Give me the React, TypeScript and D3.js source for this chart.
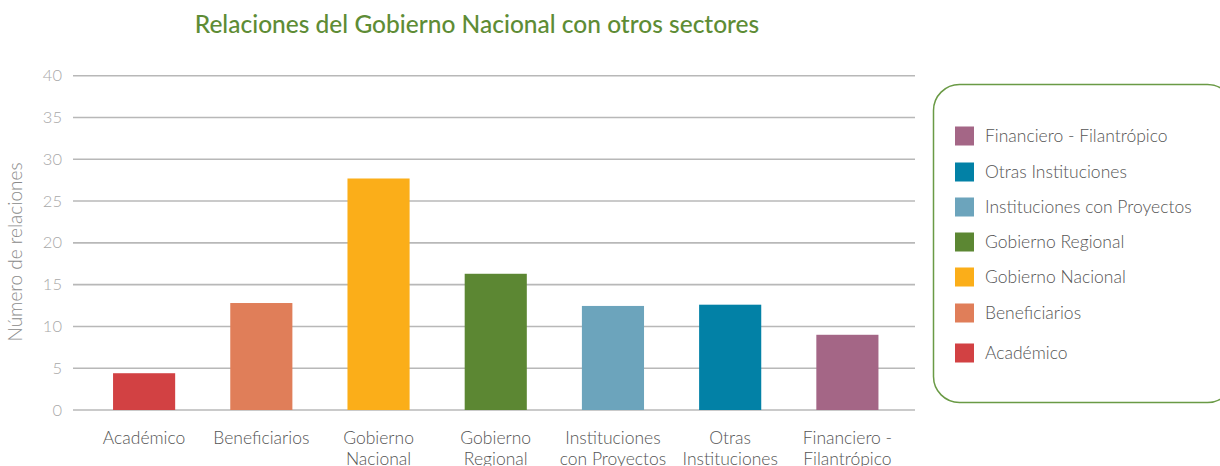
import React from "react";
import * as d3 from "d3";

const categories = ["Académico", "Beneficiarios", "Gobierno Nacional", "Gobierno Regional", "Instituciones con Proyectos", "Otras Instituciones", "Financiero - Filantrópico"];
const categoryLabelLines = [["Académico"], ["Beneficiarios"], ["Gobierno", "Nacional"], ["Gobierno", "Regional"], ["Instituciones", "con Proyectos"], ["Otras", "Instituciones"], ["Financiero -", "Filantrópico"]];
const values = [4.4, 12.8, 27.7, 16.3, 12.45, 12.6, 9.0];
const colors = ["#d24143", "#e07e59", "#fbae19", "#5c8733", "#6ca4bc", "#0281a6", "#a46686"];
const yTicks = [0, 5, 10, 15, 20, 25, 30, 35, 40];
const legendOrder = [6, 5, 4, 3, 2, 1, 0];
const legendRowY = [136, 172, 207, 242, 277, 313, 353];

const FONT = "Lato, 'Open Sans', sans-serif";

export default function App() {
  const x = d3.scaleBand<string>().domain(categories).range([85.5, 906]).paddingInner(0.47).paddingOuter(0.235);
  const y = d3.scaleLinear().domain([0, 40]).range([410, 75.7]);
  return (
    <svg width={1220} height={466} style={{ position: "absolute", left: 0, top: 0, background: "#fff" }}>
      <text x={477} y={33} textAnchor="middle" fontFamily={FONT} fontSize={24.5} fill="#5e8c35" fontWeight={500}>
        Relaciones del Gobierno Nacional con otros sectores
      </text>
      {yTicks.map((t) => (
        <g key={t}>
          <line x1={73} x2={915} y1={y(t)} y2={y(t)} stroke="#b8b8b8" strokeWidth={1.6} />
          <text x={62} y={y(t) + 5.5} textAnchor="end" fontFamily={FONT} fontWeight={300} fontSize={16.5} fill="#a8a8a8">{t}</text>
        </g>
      ))}
      <text transform="translate(22,252) rotate(-90)" textAnchor="middle" fontFamily={FONT} fontWeight={300} fontSize={19} fill="#8a8a8a">
        Número de relaciones
      </text>
      {categories.map((c, i) => (
        <rect key={c} x={x(c)} y={y(values[i])} width={x.bandwidth()} height={y(0) - y(values[i])} fill={colors[i]} />
      ))}
      {categories.map((c, i) => (
        <text key={c} textAnchor="middle" fontFamily={FONT} fontWeight={300} fontSize={17.5} fill="#555">
          {categoryLabelLines[i].map((l, j) => (
            <tspan key={j} x={(x(c) as number) + x.bandwidth() / 2} y={444 + j * 21}>{l}</tspan>
          ))}
        </text>
      ))}
      <rect x={933.5} y={84.5} width={300} height={318} rx={26} ry={26} fill="none" stroke="#6a9a45" strokeWidth={1.5} />
      {legendOrder.map((idx, r) => (
        <g key={idx}>
          <rect x={955} y={legendRowY[r] - 9.5} width={19} height={19} fill={colors[idx]} />
          <text x={985} y={legendRowY[r] + 6} fontFamily={FONT} fontWeight={300} fontSize={17.5} fill="#555">{categories[idx]}</text>
        </g>
      ))}
    </svg>
  );
}
